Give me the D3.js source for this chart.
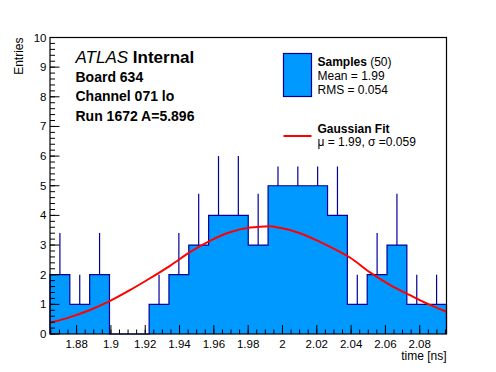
<!DOCTYPE html>
<html>
<head>
<meta charset="utf-8">
<script src="https://cdn.jsdelivr.net/npm/d3@7"></script>
<style>
  html, body { margin: 0; padding: 0; background: #fff; }
  svg { display: block; font-family: "Liberation Sans", Arial, Helvetica, sans-serif; }
</style>
</head>
<body>
<div id="chart"></div>
<script>
// histogram contents (20 bins) and upper error lengths
const binValues = [2, 1, 2, 0, 0, 1, 2, 3, 4, 4, 3, 5, 5, 5, 4, 1, 2, 3, 1, 1];
const binErrors = [1.41, 1, 1.41, 0, 0, 1, 1.41, 1.73, 2, 2, 1.73, 2.24, 2.24, 2.24, 2, 1, 1.41, 1.73, 1, 1];
const xMin = 1.8645, xMax = 2.0956;

// gaussian fit curve
const fitX = [1.8645, 1.8762, 1.8878, 1.8990, 1.9111, 1.9228, 1.9344, 1.9461, 1.9577, 1.9694,
              1.9811, 1.9869, 1.9927, 1.9985, 2.0102, 2.0218, 2.0335, 2.0393, 2.0510, 2.0626,
              2.0743, 2.0860, 2.0956];
const fitY = [0.38, 0.57, 0.81, 1.10, 1.48, 1.88, 2.30, 2.76, 3.14, 3.43,
              3.59, 3.62, 3.63, 3.58, 3.40, 3.11, 2.77, 2.58, 2.08, 1.66,
              1.31, 0.98, 0.75];

const xTickValues = [1.88, 1.9, 1.92, 1.94, 1.96, 1.98, 2, 2.02, 2.04, 2.06, 2.08];
const xTickLabels = ["1.88", "1.9", "1.92", "1.94", "1.96", "1.98", "2", "2.02", "2.04", "2.06", "2.08"];
const yTickValues = [0, 1, 2, 3, 4, 5, 6, 7, 8, 9, 10];

const legendSamples = ["Samples", " (50)", "Mean = 1.99", "RMS = 0.054"];
const legendFit = ["Gaussian Fit", "\u03bc = 1.99, \u03c3 =0.059"];
const infoLines = ["Board 634", "Channel 071 lo", "Run 1672 A=5.896"];

const width = 496, height = 372;
const fillBlue = "#0099ff", lineBlue = "#000099";

const svg = d3.select("#chart").append("svg")
  .attr("width", width)
  .attr("height", height);

const x = d3.scaleLinear().domain([xMin, xMax]).range([50, 446.5]);
const y = d3.scaleLinear().domain([0, 10]).range([334, 37.5]);

const binW = (xMax - xMin) / binValues.length;
const bins = binValues.map((v, i) => ({ x0: xMin + i * binW, x1: xMin + (i + 1) * binW, v, e: binErrors[i] }));

// histogram as one step contour
const pts = [[x(xMin), y(0)]];
bins.forEach(b => { pts.push([x(b.x0), y(b.v)]); pts.push([x(b.x1), y(b.v)]); });
pts.push([x(xMax), y(0)]);

svg.append("path")
  .attr("d", d3.line()(pts))
  .attr("fill", fillBlue)
  .attr("stroke", lineBlue)
  .attr("stroke-width", 1.2);

// error bars (upper half only shows over the fill)
svg.append("g").selectAll("line")
  .data(bins.filter(b => b.v > 0))
  .join("line")
  .attr("x1", b => x((b.x0 + b.x1) / 2))
  .attr("x2", b => x((b.x0 + b.x1) / 2))
  .attr("y1", b => y(b.v))
  .attr("y2", b => y(b.v + b.e))
  .attr("stroke", lineBlue)
  .attr("stroke-width", 1.2);

// fit
svg.append("path")
  .datum(fitX.map((d, i) => [d, fitY[i]]))
  .attr("d", d3.line().x(d => x(d[0])).y(d => y(d[1])).curve(d3.curveMonotoneX))
  .attr("fill", "none")
  .attr("stroke", "#ff0000")
  .attr("stroke-width", 2);

// frame
svg.append("rect")
  .attr("x", 50).attr("y", 37.5)
  .attr("width", 396.5).attr("height", 296.5)
  .attr("fill", "none")
  .attr("stroke", "#000")
  .attr("stroke-width", 1.2);

// x axis ticks, pointing inward
const xAxis = svg.append("g");
xAxis.selectAll("line.minor")
  .data(d3.range(1.865, xMax, 0.005))
  .join("line")
  .attr("x1", d => x(d)).attr("x2", d => x(d))
  .attr("y1", 334).attr("y2", 329.5)
  .attr("stroke", "#000");
xAxis.selectAll("line.major")
  .data(xTickValues)
  .join("line")
  .attr("x1", d => x(d)).attr("x2", d => x(d))
  .attr("y1", 334).attr("y2", 325)
  .attr("stroke", "#000");
xAxis.selectAll("text")
  .data(xTickValues)
  .join("text")
  .attr("x", d => x(d))
  .attr("y", 347.5)
  .attr("text-anchor", "middle")
  .attr("font-size", 11.5)
  .text((d, i) => xTickLabels[i]);

svg.append("text")
  .attr("x", 446.5).attr("y", 360)
  .attr("text-anchor", "end")
  .attr("font-size", 12)
  .text("time [ns]");

// y axis ticks
const yAxis = svg.append("g");
yAxis.selectAll("line.minor")
  .data(d3.range(0, 10.01, 0.2))
  .join("line")
  .attr("x1", 50).attr("x2", 55)
  .attr("y1", d => y(d)).attr("y2", d => y(d))
  .attr("stroke", "#000");
yAxis.selectAll("line.major")
  .data(yTickValues)
  .join("line")
  .attr("x1", 50).attr("x2", 59.5)
  .attr("y1", d => y(d)).attr("y2", d => y(d))
  .attr("stroke", "#000");
yAxis.selectAll("text")
  .data(yTickValues)
  .join("text")
  .attr("x", 46.5)
  .attr("y", d => y(d) + 4)
  .attr("text-anchor", "end")
  .attr("font-size", 11.5)
  .text(d => d);

svg.append("text")
  .attr("transform", "translate(22.5,37.5) rotate(-90)")
  .attr("text-anchor", "end")
  .attr("font-size", 12)
  .text("Entries");

// legend
const leg = svg.append("g");
leg.append("rect")
  .attr("x", 272).attr("y", 42)
  .attr("width", 172).attr("height", 124.5)
  .attr("fill", "#fff");
leg.append("rect")
  .attr("x", 283.5).attr("y", 53.5)
  .attr("width", 28).attr("height", 43)
  .attr("fill", fillBlue)
  .attr("stroke", lineBlue)
  .attr("stroke-width", 1.2);
const t1 = leg.append("text").attr("x", 317.5).attr("y", 66).attr("font-size", 12);
t1.append("tspan").attr("font-weight", "bold").text(legendSamples[0]);
t1.append("tspan").text(legendSamples[1]);
leg.append("text").attr("x", 317.5).attr("y", 79.5).attr("font-size", 12).text(legendSamples[2]);
leg.append("text").attr("x", 317.5).attr("y", 93.5).attr("font-size", 12).text(legendSamples[3]);
leg.append("line")
  .attr("x1", 283.5).attr("x2", 311.5)
  .attr("y1", 136).attr("y2", 136)
  .attr("stroke", "#ff0000")
  .attr("stroke-width", 2);
leg.append("text").attr("x", 317.5).attr("y", 133.3).attr("font-size", 12)
  .attr("font-weight", "bold").text(legendFit[0]);
leg.append("text").attr("x", 317.5).attr("y", 146.3).attr("font-size", 12).text(legendFit[1]);

// ATLAS label
const atl = svg.append("text").attr("x", 75.5).attr("y", 63).attr("font-size", 17);
atl.append("tspan").attr("font-style", "italic").text("ATLAS ");
atl.append("tspan").attr("font-weight", "bold").text("Internal");
svg.selectAll("text.info")
  .data(infoLines)
  .join("text")
  .attr("class", "info")
  .attr("x", 75.5)
  .attr("y", (d, i) => [81.5, 101, 120.5][i])
  .attr("font-size", 14)
  .attr("font-weight", "bold")
  .text(d => d);
</script>
</body>
</html>
